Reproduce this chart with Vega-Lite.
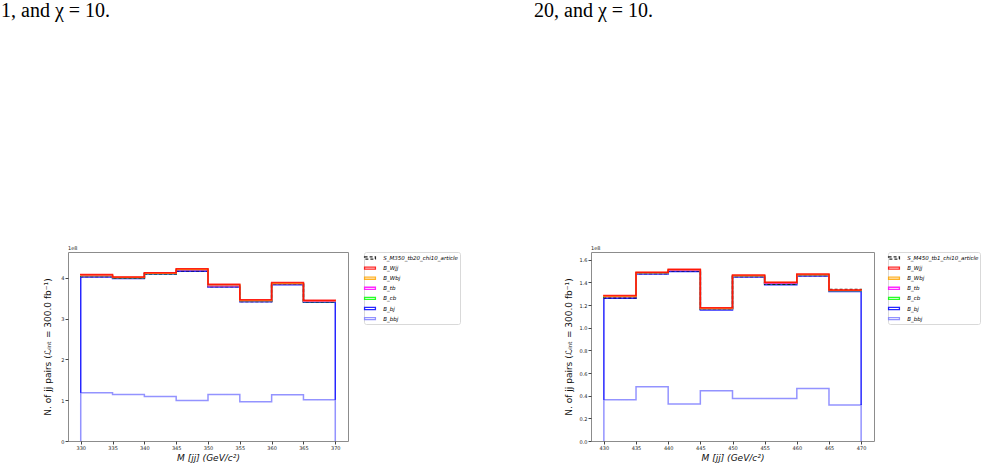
{
  "$schema": "https://vega.github.io/schema/vega-lite/v6.json",
  "background": "white",
  "padding": 0,
  "spacing": 72,
  "config": {
    "font": "DejaVu Sans",
    "view": {"stroke": "#8c8c8c", "strokeWidth": 1},
    "axis": {"grid": false, "domain": false, "tickColor": "#444", "tickSize": 3, "labelFontSize": 5, "labelColor": "#222", "labelPadding": 1, "labelOverlap": false, "titleFontSize": 9, "titleFontWeight": "normal", "titleColor": "#111"},
    "title": {"font": "Liberation Serif", "fontSize": 20, "fontWeight": "normal", "color": "#000", "anchor": "start", "frame": "group"}
  },
  "datasets": {
    "left": [
      {"s":"B_bbj","m":330,"n":0,"k":0},{"s":"B_bbj","m":330,"n":118000000,"k":1},{"s":"B_bbj","m":335,"n":114000000,"k":2},{"s":"B_bbj","m":340,"n":109000000,"k":3},{"s":"B_bbj","m":345,"n":99000000,"k":4},{"s":"B_bbj","m":350,"n":114000000,"k":5},{"s":"B_bbj","m":355,"n":96000000,"k":6},{"s":"B_bbj","m":360,"n":113000000,"k":7},{"s":"B_bbj","m":365,"n":101000000,"k":8},{"s":"B_bbj","m":370,"n":101000000,"k":9},{"s":"B_bbj","m":370,"n":0,"k":10},
      {"s":"B_bj","m":330,"n":118000000,"k":0},{"s":"B_bj","m":330,"n":402000000,"k":1},{"s":"B_bj","m":335,"n":398000000,"k":2},{"s":"B_bj","m":340,"n":409000000,"k":3},{"s":"B_bj","m":345,"n":416000000,"k":4},{"s":"B_bj","m":350,"n":377000000,"k":5},{"s":"B_bj","m":355,"n":341000000,"k":6},{"s":"B_bj","m":360,"n":383000000,"k":7},{"s":"B_bj","m":365,"n":340000000,"k":8},{"s":"B_bj","m":370,"n":340000000,"k":9},{"s":"B_bj","m":370,"n":101000000,"k":10},
      {"s":"S_M350_tb20_chi10_article","m":330,"n":402000000,"k":0},{"s":"S_M350_tb20_chi10_article","m":330,"n":403200000,"k":1},{"s":"S_M350_tb20_chi10_article","m":335,"n":399000000,"k":2},{"s":"S_M350_tb20_chi10_article","m":340,"n":410000000,"k":3},{"s":"S_M350_tb20_chi10_article","m":345,"n":417200000,"k":4},{"s":"S_M350_tb20_chi10_article","m":350,"n":378200000,"k":5},{"s":"S_M350_tb20_chi10_article","m":355,"n":342000000,"k":6},{"s":"S_M350_tb20_chi10_article","m":360,"n":384000000,"k":7},{"s":"S_M350_tb20_chi10_article","m":365,"n":341000000,"k":8},{"s":"S_M350_tb20_chi10_article","m":370,"n":341000000,"k":9},{"s":"S_M350_tb20_chi10_article","m":370,"n":340000000,"k":10},
      {"s":"B_cb","m":330,"n":403200000,"k":0},{"s":"B_cb","m":330,"n":404500000,"k":1},{"s":"B_cb","m":335,"n":400000000,"k":2},{"s":"B_cb","m":340,"n":410500000,"k":3},{"s":"B_cb","m":345,"n":418500000,"k":4},{"s":"B_cb","m":350,"n":379500000,"k":5},{"s":"B_cb","m":355,"n":343000000,"k":6},{"s":"B_cb","m":360,"n":385000000,"k":7},{"s":"B_cb","m":365,"n":342000000,"k":8},{"s":"B_cb","m":370,"n":342000000,"k":9},{"s":"B_cb","m":370,"n":341000000,"k":10},
      {"s":"B_tb","m":330,"n":404500000,"k":0},{"s":"B_tb","m":330,"n":405000000,"k":1},{"s":"B_tb","m":335,"n":400500000,"k":2},{"s":"B_tb","m":340,"n":410800000,"k":3},{"s":"B_tb","m":345,"n":419000000,"k":4},{"s":"B_tb","m":350,"n":380000000,"k":5},{"s":"B_tb","m":355,"n":343500000,"k":6},{"s":"B_tb","m":360,"n":385500000,"k":7},{"s":"B_tb","m":365,"n":342500000,"k":8},{"s":"B_tb","m":370,"n":342500000,"k":9},{"s":"B_tb","m":370,"n":342000000,"k":10},
      {"s":"B_Wbj","m":330,"n":405000000,"k":0},{"s":"B_Wbj","m":330,"n":406500000,"k":1},{"s":"B_Wbj","m":335,"n":401000000,"k":2},{"s":"B_Wbj","m":340,"n":411200000,"k":3},{"s":"B_Wbj","m":345,"n":420500000,"k":4},{"s":"B_Wbj","m":350,"n":382500000,"k":5},{"s":"B_Wbj","m":355,"n":344700000,"k":6},{"s":"B_Wbj","m":360,"n":386700000,"k":7},{"s":"B_Wbj","m":365,"n":343700000,"k":8},{"s":"B_Wbj","m":370,"n":343700000,"k":9},{"s":"B_Wbj","m":370,"n":342500000,"k":10},
      {"s":"B_Wjj","m":330,"n":406500000,"k":0},{"s":"B_Wjj","m":330,"n":408000000,"k":1},{"s":"B_Wjj","m":335,"n":402000000,"k":2},{"s":"B_Wjj","m":340,"n":412000000,"k":3},{"s":"B_Wjj","m":345,"n":422000000,"k":4},{"s":"B_Wjj","m":350,"n":384000000,"k":5},{"s":"B_Wjj","m":355,"n":346000000,"k":6},{"s":"B_Wjj","m":360,"n":388000000,"k":7},{"s":"B_Wjj","m":365,"n":345000000,"k":8},{"s":"B_Wjj","m":370,"n":345000000,"k":9},{"s":"B_Wjj","m":370,"n":343700000,"k":10}
    ],
    "right": [
      {"s":"B_bbj","m":430,"n":0,"k":0},{"s":"B_bbj","m":430,"n":36400000,"k":1},{"s":"B_bbj","m":435,"n":47800000,"k":2},{"s":"B_bbj","m":440,"n":32600000,"k":3},{"s":"B_bbj","m":445,"n":44300000,"k":4},{"s":"B_bbj","m":450,"n":37600000,"k":5},{"s":"B_bbj","m":455,"n":37600000,"k":6},{"s":"B_bbj","m":460,"n":46400000,"k":7},{"s":"B_bbj","m":465,"n":31700000,"k":8},{"s":"B_bbj","m":470,"n":31700000,"k":9},{"s":"B_bbj","m":470,"n":0,"k":10},
      {"s":"B_bj","m":430,"n":36400000,"k":0},{"s":"B_bj","m":430,"n":126000000,"k":1},{"s":"B_bj","m":435,"n":147400000,"k":2},{"s":"B_bj","m":440,"n":149700000,"k":3},{"s":"B_bj","m":445,"n":115700000,"k":4},{"s":"B_bj","m":450,"n":144700000,"k":5},{"s":"B_bj","m":455,"n":137800000,"k":6},{"s":"B_bj","m":460,"n":145600000,"k":7},{"s":"B_bj","m":465,"n":132000000,"k":8},{"s":"B_bj","m":470,"n":132000000,"k":9},{"s":"B_bj","m":470,"n":31700000,"k":10},
      {"s":"S_M450_tb1_chi10_article","m":430,"n":126000000,"k":0},{"s":"S_M450_tb1_chi10_article","m":430,"n":126500000,"k":1},{"s":"S_M450_tb1_chi10_article","m":435,"n":147900000,"k":2},{"s":"S_M450_tb1_chi10_article","m":440,"n":150200000,"k":3},{"s":"S_M450_tb1_chi10_article","m":445,"n":116200000,"k":4},{"s":"S_M450_tb1_chi10_article","m":450,"n":145200000,"k":5},{"s":"S_M450_tb1_chi10_article","m":455,"n":138400000,"k":6},{"s":"S_M450_tb1_chi10_article","m":460,"n":146100000,"k":7},{"s":"S_M450_tb1_chi10_article","m":465,"n":133700000,"k":8},{"s":"S_M450_tb1_chi10_article","m":470,"n":133700000,"k":9},{"s":"S_M450_tb1_chi10_article","m":470,"n":132000000,"k":10},
      {"s":"B_cb","m":430,"n":126500000,"k":0},{"s":"B_cb","m":430,"n":127200000,"k":1},{"s":"B_cb","m":435,"n":148300000,"k":2},{"s":"B_cb","m":440,"n":150600000,"k":3},{"s":"B_cb","m":445,"n":116600000,"k":4},{"s":"B_cb","m":450,"n":145600000,"k":5},{"s":"B_cb","m":455,"n":139000000,"k":6},{"s":"B_cb","m":460,"n":146500000,"k":7},{"s":"B_cb","m":465,"n":132600000,"k":8},{"s":"B_cb","m":470,"n":132600000,"k":9},{"s":"B_cb","m":470,"n":133700000,"k":10},
      {"s":"B_tb","m":430,"n":127200000,"k":0},{"s":"B_tb","m":430,"n":127400000,"k":1},{"s":"B_tb","m":435,"n":148500000,"k":2},{"s":"B_tb","m":440,"n":150800000,"k":3},{"s":"B_tb","m":445,"n":116800000,"k":4},{"s":"B_tb","m":450,"n":145800000,"k":5},{"s":"B_tb","m":455,"n":139200000,"k":6},{"s":"B_tb","m":460,"n":146700000,"k":7},{"s":"B_tb","m":465,"n":132800000,"k":8},{"s":"B_tb","m":470,"n":132800000,"k":9},{"s":"B_tb","m":470,"n":132600000,"k":10},
      {"s":"B_Wbj","m":430,"n":127400000,"k":0},{"s":"B_Wbj","m":430,"n":127800000,"k":1},{"s":"B_Wbj","m":435,"n":148600000,"k":2},{"s":"B_Wbj","m":440,"n":151100000,"k":3},{"s":"B_Wbj","m":445,"n":117200000,"k":4},{"s":"B_Wbj","m":450,"n":146100000,"k":5},{"s":"B_Wbj","m":455,"n":139800000,"k":6},{"s":"B_Wbj","m":460,"n":147000000,"k":7},{"s":"B_Wbj","m":465,"n":133100000,"k":8},{"s":"B_Wbj","m":470,"n":133100000,"k":9},{"s":"B_Wbj","m":470,"n":132800000,"k":10},
      {"s":"B_Wjj","m":430,"n":127800000,"k":0},{"s":"B_Wjj","m":430,"n":128300000,"k":1},{"s":"B_Wjj","m":435,"n":149000000,"k":2},{"s":"B_Wjj","m":440,"n":151500000,"k":3},{"s":"B_Wjj","m":445,"n":117700000,"k":4},{"s":"B_Wjj","m":450,"n":146500000,"k":5},{"s":"B_Wjj","m":455,"n":140000000,"k":6},{"s":"B_Wjj","m":460,"n":147400000,"k":7},{"s":"B_Wjj","m":465,"n":133300000,"k":8},{"s":"B_Wjj","m":470,"n":133300000,"k":9},{"s":"B_Wjj","m":470,"n":133100000,"k":10}
    ]
  },
  "resolve": {"scale": {"color": "independent", "strokeDash": "independent", "x": "independent", "y": "independent"}, "legend": {"color": "independent", "strokeDash": "independent"}},
  "hconcat": [
    {
      "width": 280,
      "height": 189,
      "title": {"text": "1, and χ = 10.", "dx": -67, "offset": 225},
      "layer": [
        {
          "data": {"name": "left"},
          "mark": {"type": "line", "interpolate": "step-after", "strokeWidth": 1.5, "opacity": 0.85},
          "encoding": {
            "x": {"field": "m", "type": "quantitative", "scale": {"domain": [328, 372], "nice": false, "zero": false}, "axis": {"values": [330,335,340,345,350,355,360,365,370], "labelOverlap": false, "title": "M [jj] (GeV/c²)", "titleFontStyle": "italic", "titlePadding": 3}},
            "y": {"field": "n", "type": "quantitative", "scale": {"domain": [0, 463000000], "nice": false}, "axis": {"values": [0,100000000,200000000,300000000,400000000], "labelOverlap": false, "labelExpr": "format(datum.value/1e8,'d')", "title": "N. of jj pairs (ℒᵢₙₜ = 300.0 fb⁻¹)", "titlePadding": 8}},
            "order": {"field": "k", "type": "quantitative"},
            "color": {"field": "s", "type": "nominal", "scale": {"domain": ["S_M350_tb20_chi10_article","B_Wjj","B_Wbj","B_tb","B_cb","B_bj","B_bbj"], "range": ["#000000","#ff0000","#ffa500","#ff00ff","#00ff00","#0000ff","#8080ff"]},
              "legend": {"orient": "none", "legendX": 296, "legendY": 0, "title": null, "symbolType": "M-1.55,-0.3H1.55V0.3H-1.55Z", "symbolSize": 49, "symbolStrokeWidth": 1.3, "symbolFillColor": "white", "labelFontSize": 5.5, "labelFontStyle": "italic", "labelOffset": 8.7, "padding": 1.5, "rowPadding": 1.1, "strokeColor": "#d9d9d9", "fillColor": "white", "cornerRadius": 2, "labelLimit": 200}},
            "strokeDash": {"field": "s", "type": "nominal", "scale": {"domain": ["S_M350_tb20_chi10_article","B_Wjj","B_Wbj","B_tb","B_cb","B_bj","B_bbj"], "range": [[3,2],[1,0],[1,0],[1,0],[1,0],[1,0],[1,0]]},
              "legend": {"orient": "none", "legendX": 296, "legendY": 0, "title": null, "symbolType": "M-1.55,-0.3H1.55V0.3H-1.55Z", "symbolSize": 49, "symbolStrokeWidth": 1.3, "symbolFillColor": "white", "labelFontSize": 5.5, "labelFontStyle": "italic", "labelOffset": 8.7, "padding": 1.5, "rowPadding": 1.1, "strokeColor": "#d9d9d9", "fillColor": "white", "cornerRadius": 2, "labelLimit": 200}}
          }
        },
        {
          "data": {"values": [{"t": "1e8"}]},
          "mark": {"type": "text", "align": "left", "baseline": "bottom", "fontSize": 5, "dy": -1, "color": "#222"},
          "encoding": {
            "x": {"datum": 328, "type": "quantitative", "axis": {"values": [330,335,340,345,350,355,360,365,370], "labelOverlap": false, "title": "M [jj] (GeV/c²)", "titleFontStyle": "italic", "titlePadding": 3}},
            "y": {"datum": 463000000, "type": "quantitative", "axis": {"values": [0,100000000,200000000,300000000,400000000], "labelOverlap": false, "labelExpr": "format(datum.value/1e8,'d')", "title": "N. of jj pairs (ℒᵢₙₜ = 300.0 fb⁻¹)", "titlePadding": 8}},
            "text": {"field": "t"}
          }
        }
      ]
    },
    {
      "width": 283,
      "height": 189,
      "title": {"text": "20, and χ = 10.", "dx": -57, "offset": 225},
      "layer": [
        {
          "data": {"name": "right"},
          "mark": {"type": "line", "interpolate": "step-after", "strokeWidth": 1.5, "opacity": 0.85},
          "encoding": {
            "x": {"field": "m", "type": "quantitative", "scale": {"domain": [428, 472], "nice": false, "zero": false}, "axis": {"values": [430,435,440,445,450,455,460,465,470], "labelOverlap": false, "title": "M [jj] (GeV/c²)", "titleFontStyle": "italic", "titlePadding": 3}},
            "y": {"field": "n", "type": "quantitative", "scale": {"domain": [0, 166800000], "nice": false}, "axis": {"values": [0,20000000,40000000,60000000,80000000,100000000,120000000,140000000,160000000], "labelOverlap": false, "labelExpr": "format(datum.value/1e8,'.1f')", "title": "N. of jj pairs (ℒᵢₙₜ = 300.0 fb⁻¹)", "titlePadding": 6}},
            "order": {"field": "k", "type": "quantitative"},
            "color": {"field": "s", "type": "nominal", "scale": {"domain": ["S_M450_tb1_chi10_article","B_Wjj","B_Wbj","B_tb","B_cb","B_bj","B_bbj"], "range": ["#000000","#ff0000","#ffa500","#ff00ff","#00ff00","#0000ff","#8080ff"]},
              "legend": {"orient": "none", "legendX": 297, "legendY": 0, "title": null, "symbolType": "M-1.55,-0.3H1.55V0.3H-1.55Z", "symbolSize": 49, "symbolStrokeWidth": 1.3, "symbolFillColor": "white", "labelFontSize": 5.5, "labelFontStyle": "italic", "labelOffset": 8.7, "padding": 1.5, "rowPadding": 1.1, "strokeColor": "#d9d9d9", "fillColor": "white", "cornerRadius": 2, "labelLimit": 200}},
            "strokeDash": {"field": "s", "type": "nominal", "scale": {"domain": ["S_M450_tb1_chi10_article","B_Wjj","B_Wbj","B_tb","B_cb","B_bj","B_bbj"], "range": [[3,2],[1,0],[1,0],[1,0],[1,0],[1,0],[1,0]]},
              "legend": {"orient": "none", "legendX": 297, "legendY": 0, "title": null, "symbolType": "M-1.55,-0.3H1.55V0.3H-1.55Z", "symbolSize": 49, "symbolStrokeWidth": 1.3, "symbolFillColor": "white", "labelFontSize": 5.5, "labelFontStyle": "italic", "labelOffset": 8.7, "padding": 1.5, "rowPadding": 1.1, "strokeColor": "#d9d9d9", "fillColor": "white", "cornerRadius": 2, "labelLimit": 200}}
          }
        },
        {
          "data": {"values": [{"t": "1e8"}]},
          "mark": {"type": "text", "align": "left", "baseline": "bottom", "fontSize": 5, "dy": -1, "color": "#222"},
          "encoding": {
            "x": {"datum": 428, "type": "quantitative", "axis": {"values": [430,435,440,445,450,455,460,465,470], "labelOverlap": false, "title": "M [jj] (GeV/c²)", "titleFontStyle": "italic", "titlePadding": 3}},
            "y": {"datum": 166800000, "type": "quantitative", "axis": {"values": [0,20000000,40000000,60000000,80000000,100000000,120000000,140000000,160000000], "labelOverlap": false, "labelExpr": "format(datum.value/1e8,'.1f')", "title": "N. of jj pairs (ℒᵢₙₜ = 300.0 fb⁻¹)", "titlePadding": 6}},
            "text": {"field": "t"}
          }
        }
      ]
    }
  ]
}
